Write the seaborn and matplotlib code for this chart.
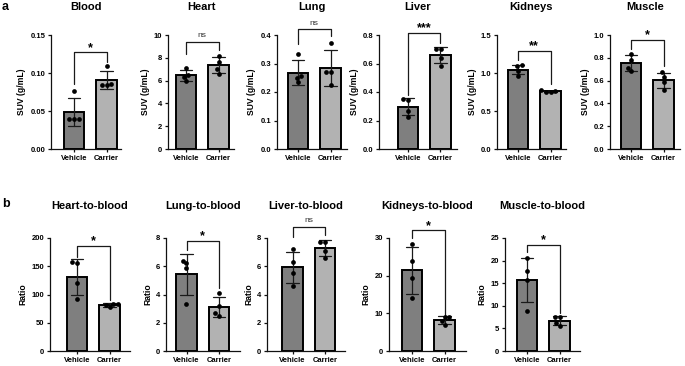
import matplotlib
matplotlib.use("Agg")
import matplotlib.pyplot as plt
import seaborn as sns
import pandas as pd

sns.set_style("ticks")
plt.rcParams["font.family"] = ["Liberation Sans", "DejaVu Sans"]
plt.rcParams["font.weight"] = "bold"
plt.rcParams["text.color"] = "black"
plt.rcParams["axes.labelcolor"] = "black"
plt.rcParams["xtick.color"] = "black"
plt.rcParams["ytick.color"] = "black"

groups = ["Vehicle", "Carrier"]
bar_colors = ["#7f7f7f", "#b2b2b2"]

# panel a: SUV (g/mL), 4 animals per group
blood_vehicle = [0.076, 0.040, 0.040, 0.039]
blood_carrier = [0.109, 0.086, 0.084, 0.084]
heart_vehicle = [7.12, 6.45, 6.30, 5.94]
heart_carrier = [8.2, 7.6, 7.0, 6.6]
lung_vehicle = [0.332, 0.255, 0.25, 0.234]
lung_carrier = [0.373, 0.271, 0.271, 0.224]
liver_vehicle = [0.345, 0.35, 0.27, 0.225]
liver_carrier = [0.705, 0.70, 0.64, 0.585]
kidneys_vehicle = [1.10, 1.09, 1.03, 0.96]
kidneys_carrier = [0.77, 0.76, 0.755, 0.745]
muscle_vehicle = [0.835, 0.785, 0.71, 0.68]
muscle_carrier = [0.673, 0.633, 0.589, 0.52]

# panel b: tissue-to-blood ratios
heart_blood_vehicle = [158, 156, 120, 92]
heart_blood_carrier = [84, 83, 82, 77]
lung_blood_vehicle = [6.4, 6.2, 5.85, 3.3]
lung_blood_carrier = [4.1, 3.2, 2.7, 2.5]
liver_blood_vehicle = [7.25, 6.3, 5.5, 4.63]
liver_blood_carrier = [7.75, 7.7, 7.1, 6.55]
kidneys_blood_vehicle = [28.4, 23.8, 19.3, 14.0]
kidneys_blood_carrier = [9.1, 8.9, 7.9, 6.9]
muscle_blood_vehicle = [20.5, 17.7, 15.6, 8.9]
muscle_blood_carrier = [7.6, 7.5, 6.3, 5.5]

# significance: left leg, bar top, right leg, label
sig_top = [
    (0.086, 0.127, 0.114, "*"),
    (8.3, 9.4, 8.7, "ns"),
    (0.367, 0.42, 0.397, "ns"),
    (0.38, 0.817, 0.746, "***"),
    (1.17, 1.29, 0.86, "**"),
    (0.88, 0.956, 0.726, "*"),
]
sig_bottom = [
    (167, 186, 90, "*"),
    (7.17, 7.77, 4.44, "*"),
    (8.1, 8.8, 8.24, "ns"),
    (30, 32, 9.5, "*"),
    (22.0, 23.5, 8.3, "*"),
]

yticks_top = [
    ([0, 0.05, 0.10, 0.15], "{:.2f}"),
    ([0, 2, 4, 6, 8, 10], "{:.0f}"),
    ([0, 0.1, 0.2, 0.3, 0.4], "{:.1f}"),
    ([0, 0.2, 0.4, 0.6, 0.8], "{:.1f}"),
    ([0, 0.5, 1.0, 1.5], "{:.1f}"),
    ([0, 0.2, 0.4, 0.6, 0.8, 1.0], "{:.1f}"),
]
yticks_bottom = [
    ([0, 50, 100, 150, 200], "{:.0f}"),
    ([0, 2, 4, 6, 8], "{:.0f}"),
    ([0, 2, 4, 6, 8], "{:.0f}"),
    ([0, 10, 20, 30], "{:.0f}"),
    ([0, 5, 10, 15, 20, 25], "{:.0f}"),
]

top_titles = ["Blood", "Heart", "Lung", "Liver", "Kidneys", "Muscle"]
top_data = [
    (blood_vehicle, blood_carrier), (heart_vehicle, heart_carrier),
    (lung_vehicle, lung_carrier), (liver_vehicle, liver_carrier),
    (kidneys_vehicle, kidneys_carrier), (muscle_vehicle, muscle_carrier),
]
bottom_titles = ["Heart-to-blood", "Lung-to-blood", "Liver-to-blood",
                 "Kidneys-to-blood", "Muscle-to-blood"]
bottom_data = [
    (heart_blood_vehicle, heart_blood_carrier), (lung_blood_vehicle, lung_blood_carrier),
    (liver_blood_vehicle, liver_blood_carrier), (kidneys_blood_vehicle, kidneys_blood_carrier),
    (muscle_blood_vehicle, muscle_blood_carrier),
]

# layout in pixels: y-spine x, vehicle bar centre x, x-axis end
top_pos = [(50.7, 74, 121), (168, 186, 234), (276.7, 298, 347),
           (379, 408, 457), (497, 518, 566), (610, 631, 680)]
bottom_pos = [(50, 77, 130), (166, 186.5, 240), (267, 292.5, 345),
              (389, 412, 466), (505, 527, 580)]

W, H = 685, 366
fig = plt.figure(figsize=(W / 100, H / 100), dpi=100)


def panel(pos, ybot, ytop, vals, title, ylabel, ticks, sig, pad):
    spine, vc, right = pos
    u = 32.5
    ax = fig.add_axes([spine / W, 1 - ybot / H, (right - spine) / W, (ybot - ytop) / H])
    df = pd.DataFrame({
        "group": [groups[0]] * len(vals[0]) + [groups[1]] * len(vals[1]),
        "value": list(vals[0]) + list(vals[1]),
    })
    sns.barplot(data=df, x="group", y="value", hue="group", order=groups,
                palette=bar_colors, legend=False, errorbar="sd", capsize=0.38,
                width=0.62, edgecolor="black", linewidth=1.4,
                err_kws={"color": "#1a1a1a", "linewidth": 0.9}, ax=ax)
    sns.swarmplot(data=df, x="group", y="value", order=groups, color="black",
                  size=3.4, ax=ax, zorder=5)
    tv, fmt = ticks
    ax.set_ylim(0, tv[-1])
    ax.set_yticks(tv)
    ax.set_yticklabels([fmt.format(t) for t in tv])
    ax.set_xlim((spine - vc) / u, (right - vc) / u)
    ax.set_xlabel("")
    ax.set_ylabel(ylabel, fontsize=6.2, fontweight="bold", labelpad=3)
    ax.set_title(title, fontsize=8, fontweight="bold", pad=pad, color="black")
    ax.tick_params(labelsize=5.5, length=2.5, width=0.9, pad=1.5, color="#111111")
    for lab in ax.get_xticklabels() + ax.get_yticklabels():
        lab.set_fontweight("bold")
    sns.despine(ax=ax)
    for s in ["left", "bottom"]:
        ax.spines[s].set_linewidth(0.9)
        ax.spines[s].set_color("#111111")
    lo_l, top, lo_r, lab = sig
    ax.plot([0, 0, 1, 1], [lo_l, top, top, lo_r], color="#1a1a1a", lw=0.9,
            clip_on=False)
    if lab == "ns":
        ax.annotate(lab, xy=(0.5, top), xytext=(0, 2), textcoords="offset points",
                    ha="center", va="bottom", fontsize=6, fontweight="normal",
                    color="#333333", annotation_clip=False)
    else:
        ax.annotate(lab, xy=(0.5, top), xytext=(0, -1), textcoords="offset points",
                    ha="center", va="bottom", fontsize=9, fontweight="bold",
                    annotation_clip=False)
    return ax


for i in range(6):
    panel(top_pos[i], 149, 35, top_data[i], top_titles[i], "SUV (g/mL)",
          yticks_top[i], sig_top[i], 18)
for i in range(5):
    panel(bottom_pos[i], 351, 238, bottom_data[i], bottom_titles[i], "Ratio",
          yticks_bottom[i], sig_bottom[i], 21)

fig.text(2 / W, 1 - 1 / H, "a", fontsize=9, fontweight="bold", va="top", ha="left")
fig.text(2 / W, 1 - 198 / H, "b", fontsize=9, fontweight="bold", va="top", ha="left")

fig.savefig("out.png", dpi=100, facecolor="white")
